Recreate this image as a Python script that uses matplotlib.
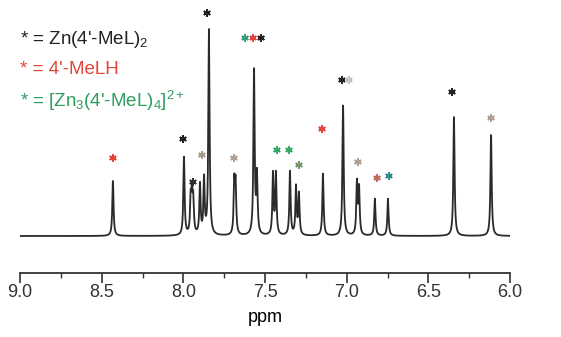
import numpy as np
import matplotlib
matplotlib.use("Agg")
import matplotlib.pyplot as plt
from matplotlib.ticker import MultipleLocator

plt.rcParams['font.family'] = ['Liberation Sans', 'DejaVu Sans']
plt.rcParams['mathtext.fontset'] = 'custom'
plt.rcParams['mathtext.rm'] = 'Liberation Sans'
plt.rcParams['mathtext.it'] = 'Liberation Sans'

# peak list (ppm, relative height)
peak_ppm = [8.431, 7.996, 7.955, 7.947, 7.939, 7.898, 7.873, 7.843, 7.688, 7.680,
            7.567, 7.549, 7.451, 7.433, 7.347, 7.310, 7.292, 7.145, 7.022,
            6.937, 6.924, 6.827, 6.747, 6.343, 6.116]
peak_height = [55, 78, 34, 36, 32, 50, 55, 205, 50, 48,
               164, 58, 61, 61, 64, 48, 41, 62, 130,
               52, 46, 37, 37, 119, 101]
hwhm = 0.0045

# peak assignment markers (ppm, height, colour)
mark_ppm = [8.431, 8.002, 7.941, 7.886, 7.855, 7.690, 7.622, 7.573, 7.524,
            7.427, 7.353, 7.292, 7.151, 7.029, 6.986, 6.931, 6.814, 6.741,
            6.355, 6.116]
mark_y = [78, 97, 54, 81, 223, 78, 198, 198, 198,
          86, 86, 71, 107, 156, 156, 74, 58, 60,
          144, 118]
mark_col = ['#e0463c', '#222222', '#333333', '#a89888', '#222222', '#b0a098',
            '#3a9a7a', '#e0463c', '#222222', '#3aa86a', '#3aa86a', '#7a9870',
            '#e0463c', '#222222', '#c8c0bc', '#b0a098', '#b87060', '#3a8a8a',
            '#222222', '#b0a098']

legend_lines = ["* = Zn(4'-MeL)$_2$", "* = 4'-MeLH", "* = [Zn$_3$(4'-MeL)$_4$]$^{2+}$"]
legend_cols = ['#222222', '#e0463c', '#2e9e5e']

ppm = np.linspace(6.0, 9.0, 8000)
spec = np.zeros_like(ppm)
for p, h in zip(peak_ppm, peak_height):
    spec += h / (1 + ((ppm - p) / hwhm) ** 2)

fig = plt.figure(figsize=(5.61, 3.37), dpi=100)
ax = fig.add_axes([20 / 561, 64 / 337, 490 / 561, 273 / 337])
ax.plot(ppm, spec, color='#2a2a2a', lw=1.3)
ax.scatter(mark_ppm, mark_y, marker=(6, 2, 0), s=18, c=mark_col, linewidths=1.3)

ax.set_xlim(9.0, 6.0)
ax.set_ylim(-37, 236)
for s in ['top', 'left', 'right']:
    ax.spines[s].set_visible(False)
ax.spines['bottom'].set_linewidth(1.3)
ax.spines['bottom'].set_color('#333333')
ax.set_yticks([])
ax.xaxis.set_major_locator(MultipleLocator(0.5))
ax.xaxis.set_minor_locator(MultipleLocator(0.25))
ax.xaxis.set_major_formatter(lambda v, pos: f"{v:.1f}")
ax.tick_params(axis='x', which='major', direction='out', length=7, width=1.2,
               pad=1, labelsize=13, colors='#333333')
ax.tick_params(axis='x', which='minor', direction='out', length=3.5, width=1.0,
               colors='#333333')
ax.set_xlabel('ppm', fontsize=13, labelpad=6)

for i, (t, c) in enumerate(zip(legend_lines, legend_cols)):
    fig.text(20 / 561, 1 - (39 + 31 * i) / 337, t, color=c, fontsize=13.5,
             va='center', ha='left')

fig.savefig('out.png', dpi=100)
